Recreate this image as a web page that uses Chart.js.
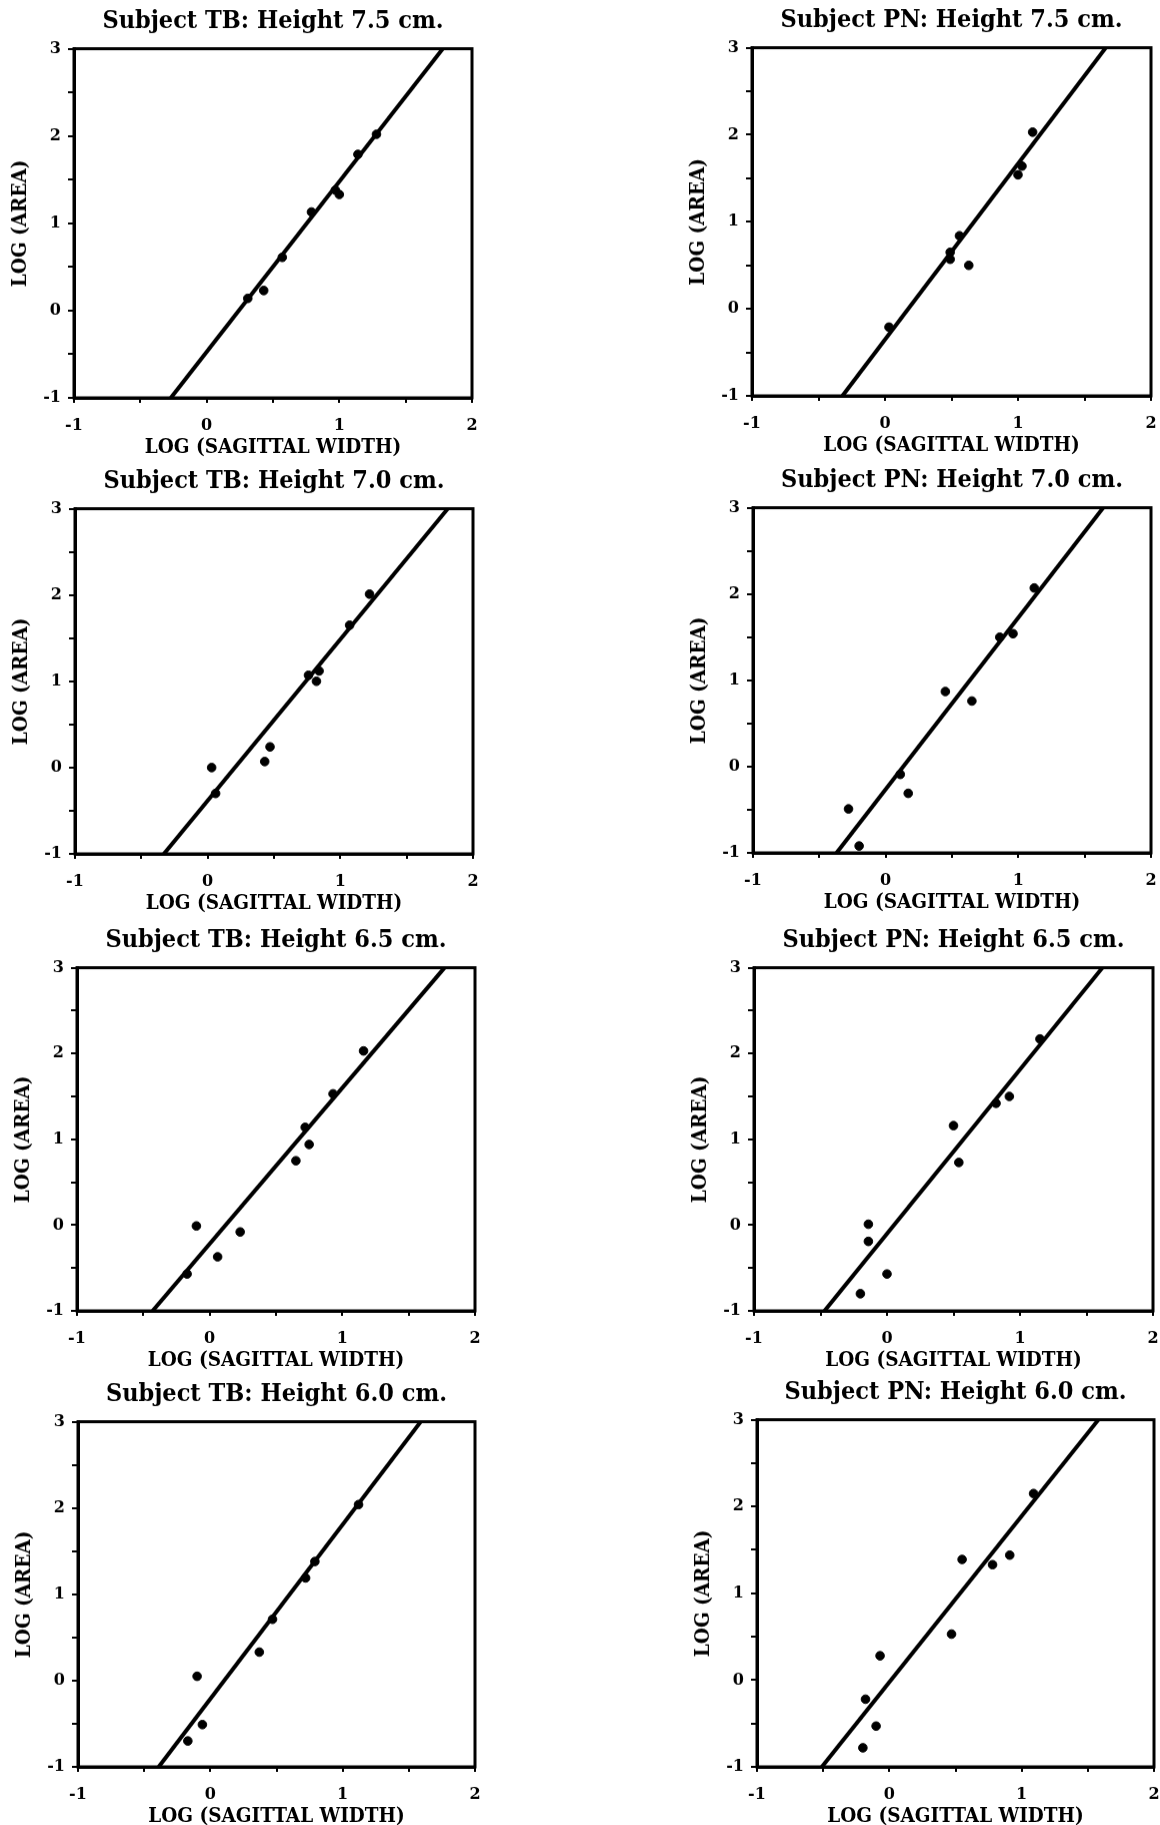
<!DOCTYPE html>
<html>
<head>
<meta charset="utf-8">
<script src="https://cdn.jsdelivr.net/npm/chart.js@4.4.1/dist/chart.umd.min.js"></script>
<style>
  html, body { margin: 0; padding: 0; background: #fff; width: 1160px; height: 1825px; overflow: hidden; }
  .panel { position: absolute; }
</style>
</head>
<body>
<script>
// ---- data ----
const xTickValues = [-1, 0, 1, 2];
const yTickValues = [-1, 0, 1, 2, 3];

const tb75X = [0.31, 0.43, 0.57, 0.79, 0.97, 1.00, 1.14, 1.28];
const tb75Y = [0.14, 0.23, 0.61, 1.13, 1.38, 1.33, 1.79, 2.02];
const tb75Fit = [-0.27, 1.78];

const pn75X = [0.03, 0.49, 0.49, 0.56, 0.63, 1.00, 1.03, 1.11];
const pn75Y = [-0.21, 0.65, 0.57, 0.84, 0.50, 1.54, 1.64, 2.03];
const pn75Fit = [-0.32, 1.66];

const tb70X = [0.03, 0.06, 0.43, 0.47, 0.76, 0.82, 0.84, 1.07, 1.22];
const tb70Y = [0.00, -0.30, 0.07, 0.24, 1.07, 1.00, 1.12, 1.65, 2.01];
const tb70Fit = [-0.33, 1.81];

const pn70X = [-0.28, -0.20, 0.11, 0.17, 0.45, 0.65, 0.86, 0.96, 1.12];
const pn70Y = [-0.49, -0.92, -0.09, -0.31, 0.87, 0.76, 1.50, 1.54, 2.07];
const pn70Fit = [-0.37, 1.64];

const tb65X = [-0.17, -0.10, 0.06, 0.23, 0.65, 0.72, 0.75, 0.93, 1.16];
const tb65Y = [-0.57, -0.01, -0.37, -0.08, 0.75, 1.14, 0.94, 1.53, 2.03];
const tb65Fit = [-0.43, 1.77];

const pn65X = [-0.20, -0.14, -0.14, 0.00, 0.50, 0.54, 0.82, 0.92, 1.15];
const pn65Y = [-0.80, 0.01, -0.19, -0.57, 1.16, 0.73, 1.42, 1.50, 2.17];
const pn65Fit = [-0.47, 1.62];

const tb60X = [-0.17, -0.10, -0.06, 0.37, 0.47, 0.72, 0.79, 1.12];
const tb60Y = [-0.70, 0.05, -0.51, 0.33, 0.71, 1.19, 1.38, 2.04];
const tb60Fit = [-0.39, 1.59];

const pn60X = [-0.20, -0.18, -0.10, -0.07, 0.47, 0.55, 0.78, 0.91, 1.09];
const pn60Y = [-0.78, -0.22, -0.53, 0.28, 0.53, 1.39, 1.33, 1.44, 2.15];
const pn60Fit = [-0.51, 1.58];

const titles = [
  "Subject TB: Height 7.5 cm.", "Subject PN: Height 7.5 cm.",
  "Subject TB: Height 7.0 cm.", "Subject PN: Height 7.0 cm.",
  "Subject TB: Height 6.5 cm.", "Subject PN: Height 6.5 cm.",
  "Subject TB: Height 6.0 cm.", "Subject PN: Height 6.0 cm."
];
const xAxisTitle = "LOG (SAGITTAL WIDTH)";
const yAxisTitle = "LOG (AREA)";
const fitLineY = [-1, 3];

const seriesX = [tb75X, pn75X, tb70X, pn70X, tb65X, pn65X, tb60X, pn60X];
const seriesY = [tb75Y, pn75Y, tb70Y, pn70Y, tb65Y, pn65Y, tb60Y, pn60Y];
const fits = [tb75Fit, pn75Fit, tb70Fit, pn70Fit, tb65Fit, pn65Fit, tb60Fit, pn60Fit];

// ---- layout (plot-area rectangles in page pixels: left, top, right, bottom) ----
const plotRects = [
  [74, 49, 472, 398], [752, 48, 1151, 396],
  [75, 509, 473, 854], [753, 508, 1151, 853],
  [77, 968, 475, 1311], [754, 968, 1153, 1311],
  [78, 1422, 475, 1767], [757, 1420, 1154, 1767]
];
const Y_AXIS_W = 74;
const X_AXIS_H = 66;
const RIGHT_PAD = 22;
const TITLE_SIZE = 25;
const TITLE_PAD_TOP = 5, TITLE_PAD_BOTTOM = 12.6;
const TITLE_H = TITLE_SIZE * 1.2 + TITLE_PAD_TOP + TITLE_PAD_BOTTOM;
const SERIF_C = "'DejaVu Serif Condensed', 'DejaVu Serif', serif";
const SERIF = "'DejaVu Serif', serif";

const framePlugin = {
  id: 'frame',
  afterDatasetsDraw(chart) {
    const a = chart.chartArea, ctx = chart.ctx;
    ctx.save();
    ctx.strokeStyle = '#000';
    ctx.lineWidth = 3;
    ctx.strokeRect(a.left, a.top, a.right - a.left, a.bottom - a.top);
    ctx.restore();
  }
};

function intLabel(v) { return Number.isInteger(v) ? String(v) : ''; }

plotRects.forEach((r, i) => {
  const [L, T, R, B] = r;
  const w = Y_AXIS_W + (R - L) + RIGHT_PAD;
  const h = TITLE_H + (B - T) + X_AXIS_H;
  const div = document.createElement('div');
  div.className = 'panel';
  div.style.left = (L - Y_AXIS_W) + 'px';
  div.style.top = (T - TITLE_H) + 'px';
  div.style.width = w + 'px';
  div.style.height = h + 'px';
  const cv = document.createElement('canvas');
  cv.width = w; cv.height = h;
  cv.style.width = w + 'px'; cv.style.height = h + 'px';
  div.appendChild(cv);
  document.body.appendChild(div);

  const pts = seriesX[i].map((x, k) => ({ x: x, y: seriesY[i][k] }));
  const line = fits[i].map((x, k) => ({ x: x, y: fitLineY[k] }));

  new Chart(cv, {
    type: 'scatter',
    data: {
      datasets: [
        { type: 'line', data: line, borderColor: '#000', borderWidth: 4, pointRadius: 0, fill: false, tension: 0 },
        { data: pts, backgroundColor: '#000', borderColor: '#000', pointRadius: 4.3, pointHoverRadius: 4.3 }
      ]
    },
    options: {
      responsive: false,
      animation: false,
      devicePixelRatio: 1,
      layout: { padding: { left: 0, top: 0, right: RIGHT_PAD, bottom: 0 } },
      plugins: {
        legend: { display: false },
        tooltip: { enabled: false },
        title: {
          display: true, text: titles[i], color: '#000', fullSize: false,
          font: { family: SERIF_C, size: TITLE_SIZE, weight: 'bold', lineHeight: 1.2 },
          padding: { top: TITLE_PAD_TOP, bottom: TITLE_PAD_BOTTOM }
        }
      },
      scales: {
        x: {
          type: 'linear', min: xTickValues[0], max: xTickValues[xTickValues.length - 1],
          afterFit(s) { s.height = X_AXIS_H; },
          ticks: { stepSize: 0.5, autoSkip: false, maxRotation: 0, color: '#000', padding: 13,
                   font: { family: SERIF, size: 16, weight: 'bold' }, callback: intLabel },
          grid: { drawOnChartArea: false, drawTicks: true, tickLength: 5, color: '#000', lineWidth: 2 },
          border: { display: true, color: '#000', width: 3 },
          title: { display: true, text: xAxisTitle, color: '#000', padding: { top: 0, bottom: 4 },
                   font: { family: SERIF_C, size: 20.5, weight: 'bold', lineHeight: 1.2 } }
        },
        y: {
          type: 'linear', min: yTickValues[0], max: yTickValues[yTickValues.length - 1],
          afterFit(s) { s.width = Y_AXIS_W; },
          ticks: { stepSize: 0.5, autoSkip: false, color: '#000', padding: 7,
                   font: { family: SERIF, size: 16, weight: 'bold' }, callback: intLabel },
          grid: { drawOnChartArea: false, drawTicks: true, tickLength: 6, color: '#000', lineWidth: 2 },
          border: { display: true, color: '#000', width: 3 },
          title: { display: true, text: yAxisTitle, color: '#000', padding: { top: 8, bottom: 0 },
                   font: { family: SERIF_C, size: 20.5, weight: 'bold', lineHeight: 1.2 } }
        }
      }
    },
    plugins: [framePlugin]
  });
});
</script>
</body>
</html>
